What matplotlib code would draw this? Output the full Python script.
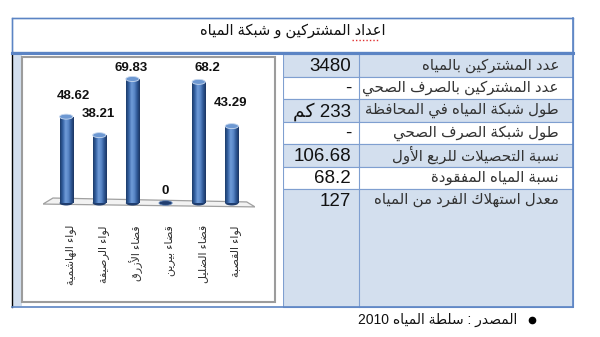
import numpy as np
import matplotlib
matplotlib.use("Agg")
import matplotlib.pyplot as plt
from matplotlib.patches import Rectangle, Ellipse, Polygon
from matplotlib.colors import LinearSegmentedColormap

# ---------------- data ----------------
title_text = "اعداد المشتركين و شبكة المياه"
row_labels = [
    "عدد المشتركين بالمياه",
    "عدد المشتركين بالصرف الصحي",
    "طول شبكة المياه في المحافظة",
    "طول شبكة الصرف الصحي",
    "نسبة التحصيلات للربع الأول",
    "نسبة المياه المفقودة",
    "معدل استهلاك الفرد من المياه",
]
row_values = ["3480", "-", ("233", "كم"), "-", "106.68", "68.2", "127"]
categories = ["لواء الهاشمية", "لواء الرصيفة", "قضاء الأزرق",
              "قضاء بيرين", "قضاء الضليل", "لواء القصبة"]
values = [48.62, 38.21, 69.83, 0, 68.2, 43.29]
value_labels = ["48.62", "38.21", "69.83", "0", "68.2", "43.29"]
source_text = "المصدر : سلطة المياه"
source_year = "2010"

# label offsets (points) relative to bar tops - style only
label_offsets = [(5, 15), (-1, 15), (-1, 8), (0, 9), (6, 10), (-1, 17)]

# ---------------- minimal Arabic shaping (presentation forms) ----------------
FORMS = {
    'ء': (0xFE80, 1), 'آ': (0xFE81, 2), 'أ': (0xFE83, 2), 'ؤ': (0xFE85, 2),
    'إ': (0xFE87, 2), 'ئ': (0xFE89, 4), 'ا': (0xFE8D, 2), 'ب': (0xFE8F, 4),
    'ة': (0xFE93, 2), 'ت': (0xFE95, 4), 'ث': (0xFE99, 4), 'ج': (0xFE9D, 4),
    'ح': (0xFEA1, 4), 'خ': (0xFEA5, 4), 'د': (0xFEA9, 2), 'ذ': (0xFEAB, 2),
    'ر': (0xFEAD, 2), 'ز': (0xFEAF, 2), 'س': (0xFEB1, 4), 'ش': (0xFEB5, 4),
    'ص': (0xFEB9, 4), 'ض': (0xFEBD, 4), 'ط': (0xFEC1, 4), 'ظ': (0xFEC5, 4),
    'ع': (0xFEC9, 4), 'غ': (0xFECD, 4), 'ف': (0xFED1, 4), 'ق': (0xFED5, 4),
    'ك': (0xFED9, 4), 'ل': (0xFEDD, 4), 'م': (0xFEE1, 4), 'ن': (0xFEE5, 4),
    'ه': (0xFEE9, 4), 'و': (0xFEED, 2), 'ى': (0xFEEF, 2), 'ي': (0xFEF1, 4),
}
LAMALEF = {'آ': 0xFEF5, 'أ': 0xFEF7, 'إ': 0xFEF9, 'ا': 0xFEFB}


def shape(s):
    units = []
    i = 0
    while i < len(s):
        c = s[i]
        if c == 'ل' and i + 1 < len(s) and s[i + 1] in LAMALEF:
            units.append(('LA', LAMALEF[s[i + 1]]))
            i += 2
        elif c in FORMS:
            units.append(('L', c))
            i += 1
        else:
            units.append(('X', c))
            i += 1

    def joins_next(u):
        return u[0] == 'L' and FORMS[u[1]][1] == 4

    def joins_prev(u):
        return (u[0] == 'L' and FORMS[u[1]][1] >= 2) or u[0] == 'LA'

    out = []
    for k, u in enumerate(units):
        prev = units[k - 1] if k > 0 else None
        nxt = units[k + 1] if k + 1 < len(units) else None
        if u[0] == 'X':
            out.append(u[1])
            continue
        p = prev is not None and joins_next(prev) and joins_prev(u)
        if u[0] == 'LA':
            out.append(chr(u[1] + (1 if p else 0)))
            continue
        base, nf = FORMS[u[1]]
        q = nxt is not None and joins_next(u) and joins_prev(nxt)
        if nf == 1:
            f = 0
        elif nf == 2:
            f = 1 if p else 0
        else:
            f = 3 if (p and q) else 1 if p else 2 if q else 0
        out.append(chr(base + f))
    return ''.join(reversed(out))


FAM = ['Liberation Sans', 'DejaVu Sans']
plt.rcParams['font.family'] = FAM

W, H = 600, 337
fig = plt.figure(figsize=(6, 3.37), dpi=100)
ax0 = fig.add_axes([0, 0, 1, 1])
ax0.set_xlim(0, W)
ax0.set_ylim(H, 0)
ax0.axis('off')

LIGHT = '#d3dfee'
GRID = '#7f9fd0'
DARKB = '#5b84c4'

L, R, T, TB = 12, 573, 18, 52
RT, RH, NR = 54, 22.5, 7
B = 307
CV, CL = 283, 359  # value col left, label col left

# title row
ax0.add_patch(Rectangle((L, T), R - L, TB - T, facecolor='white', edgecolor=GRID, lw=1.0))
ax0.text(293, 31, shape(title_text), ha='center', va='center',
         fontsize=10.5, color='#111111', family=FAM)
ax0.plot([352, 378], [40, 40], color='#e03030', lw=1.0, ls=(0, (1, 1.5)))

# rows
for i in range(NR):
    y0 = RT + i * RH
    h = RH if i < NR - 1 else B - y0
    fc = LIGHT if i % 2 == 0 else 'white'
    ax0.add_patch(Rectangle((CV, y0), R - CV, h, facecolor=fc, edgecolor=GRID, lw=0.8))
    ax0.plot([CL, CL], [y0, y0 + h], color=GRID, lw=0.8)
    yc = y0 + RH / 2
    ax0.text(R - 14, yc, shape(row_labels[i]), ha='right', va='center',
             fontsize=10.8, color='#333333', family=FAM)
    v = row_values[i]
    if isinstance(v, tuple):
        s = shape(v[1]) + ' ' + v[0]
    else:
        s = v
    ax0.text(CL - 8, yc + 1, s, ha='right', va='center', fontsize=13.5,
             color='#111111', family=FAM)

# left chart cell
ax0.add_patch(Rectangle((L, TB), CV - L, B - TB, facecolor='white', edgecolor='none'))
ax0.add_patch(Rectangle((L + 1, TB + 2), 9, B - TB - 3, facecolor=LIGHT, edgecolor='none'))
ax0.add_patch(Rectangle((22, 57), 253, 245, facecolor='white', edgecolor='#9c9c9c', lw=1.5))
ax0.plot([L, L], [TB, B], color='black', lw=1.0)
ax0.plot([L, R], [B, B], color=DARKB, lw=1.2)
ax0.plot([R, R], [T, B], color=DARKB, lw=1.2)
ax0.plot([L, L], [T, TB], color=DARKB, lw=1.0)
ax0.plot([L, R], [T, T], color=DARKB, lw=1.0)
ax0.plot([L, R], [TB + 0.5, TB + 0.5], color=DARKB, lw=2.2)

# source line
ax0.plot([532], [320], marker='o', color='black', markersize=4.5)
ax0.text(517, 320, source_year + ' ' + shape(source_text), ha='right', va='center',
         fontsize=10, color='#111111', family=FAM)

# ---------------- bar chart ----------------
px_per_unit = 1.776
x_left, x_right = 43, 255
y_zero = 203
ymin, ymax = -5, 82
bottom_px = y_zero - ymin * px_per_unit
top_px = y_zero - ymax * px_per_unit
ax = fig.add_axes([x_left / W, (H - bottom_px) / H, (x_right - x_left) / W,
                   (bottom_px - top_px) / H])
ax.set_xlim(-0.7, 5.7)
ax.set_ylim(ymin, ymax)
ax.axis('off')
ax.patch.set_alpha(0)

# floor
floor = Polygon([(-0.4, 2.8), (5.45, 0.6), (5.7, -2.2), (-0.7, -0.6)], closed=True,
                facecolor='#f2f2f2', edgecolor='#a0a0a0', lw=0.9, zorder=1)
ax.add_patch(floor)

cmap = LinearSegmentedColormap.from_list(
    'cyl', ['#1c3b6a', '#3562a3', '#6f9bd8', '#5a88c8', '#2f5896', '#1b3561'])
grad = np.linspace(0, 1, 64).reshape(1, -1)
bw = 0.4
eh = 2.8
for i, v in enumerate(values):
    if v > 0:
        ax.add_patch(Ellipse((i, 0), bw, eh, facecolor='#1f3d6e', edgecolor='none', zorder=2))
        bar = ax.bar(i, v, width=bw, bottom=0, color='#3f6fb0', zorder=3)[0]
        im = ax.imshow(grad, cmap=cmap, extent=[i - bw / 2, i + bw / 2, 0, v],
                       aspect='auto', zorder=3, interpolation='bilinear')
        im.set_clip_path(bar)
        ax.add_patch(Ellipse((i, v), bw, eh, facecolor='#6d98d2', edgecolor='#c9d9ef',
                             lw=0.6, zorder=4))
    else:
        ax.add_patch(Ellipse((i, 0), bw, eh * 0.9, facecolor='#223f70', edgecolor='#5d84bd',
                             lw=0.5, zorder=4))
    ax.annotate(value_labels[i], (i, v), xytext=label_offsets[i], textcoords='offset points',
                ha='center', va='center', fontsize=9.5, fontweight='bold', color='#111111',
                annotation_clip=False, zorder=5)
    ax.text(i + 0.12, -12.4, shape(categories[i]), rotation=90, ha='center', va='top',
            fontsize=8, color='#333333', family=FAM, clip_on=False)

ax.set_xlim(-0.7, 5.7)
ax.set_ylim(ymin, ymax)

fig.savefig('out.png', dpi=100)
